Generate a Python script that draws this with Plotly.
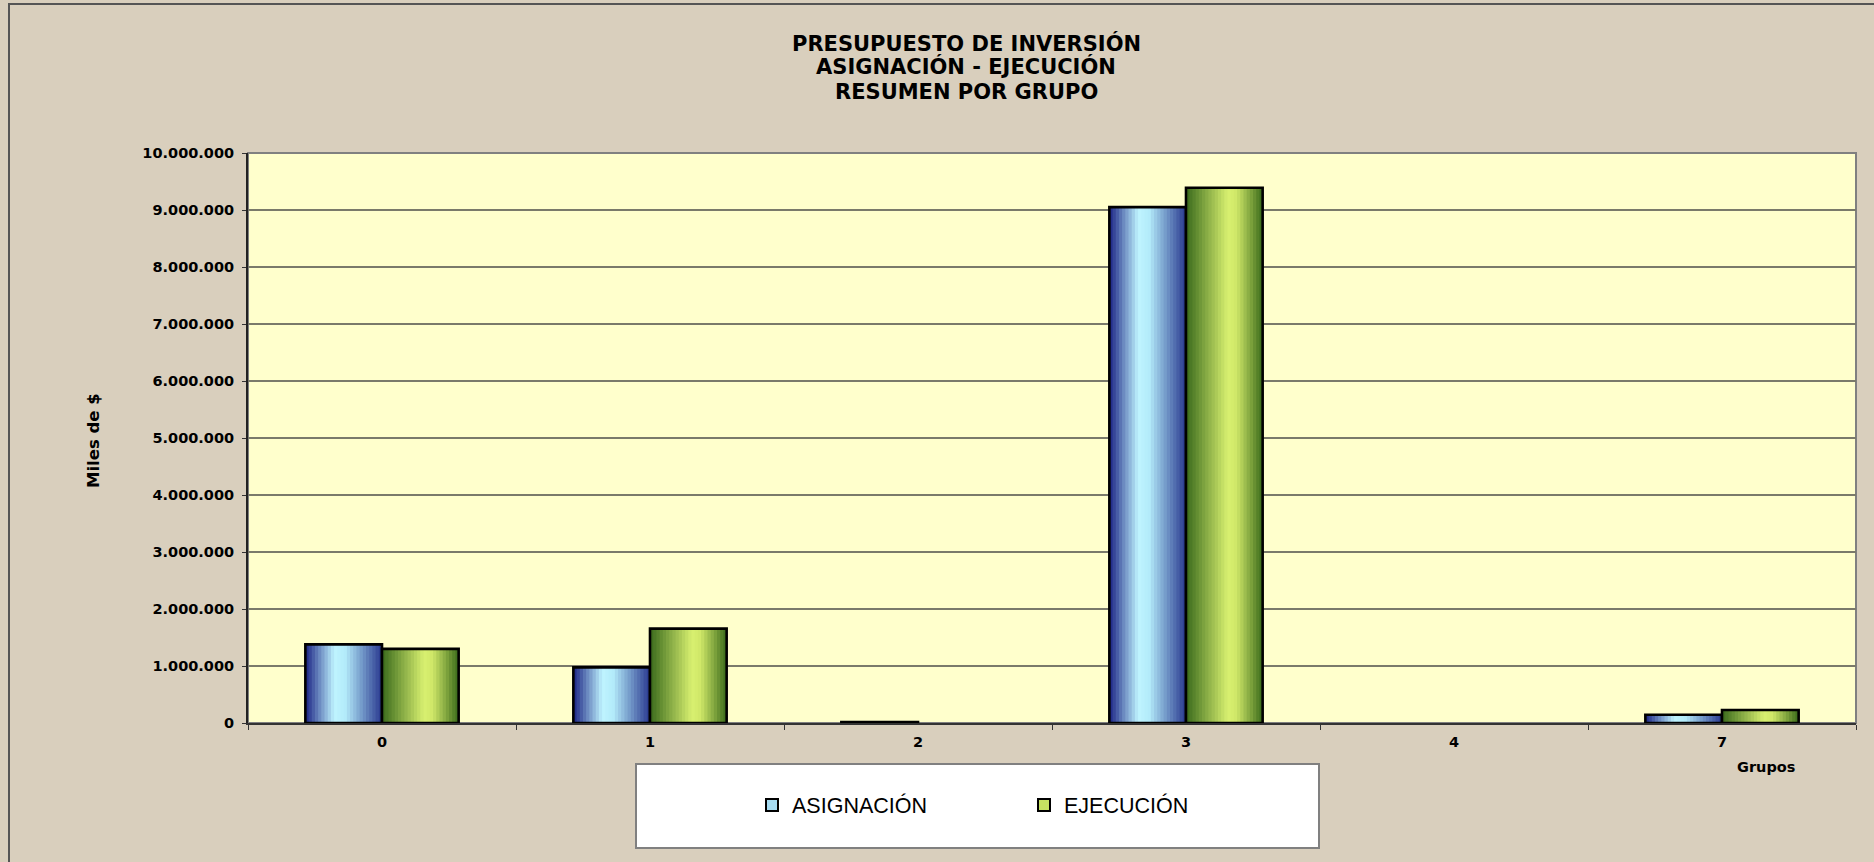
import plotly.graph_objects as go

# ---------------- data ----------------
categories = ["0", "1", "2", "3", "4", "7"]
asignacion = [1380000, 975000, 15000, 9050000, 0, 146000]
ejecucion = [1300000, 1655000, 0, 9390000, 0, 228000]
series_names = ["ASIGNACIÓN", "EJECUCIÓN"]
y_ticks = [0, 1000000, 2000000, 3000000, 4000000, 5000000,
           6000000, 7000000, 8000000, 9000000, 10000000]
title_lines = ["PRESUPUESTO DE INVERSIÓN", "ASIGNACIÓN - EJECUCIÓN", "RESUMEN POR GRUPO"]

# ---------------- layout geometry (pixels) ----------------
W, H = 1874, 862
L, R, T, B = 248, 18, 153, 139
PW, PH = W - L - R, H - T - B


def px_x(px):
    return (px - L) / PW


def px_y(py):
    return (H - B - py) / PH


def hex2rgb(h):
    h = h.lstrip("#")
    return tuple(int(h[i:i + 2], 16) for i in (0, 2, 4))


def grad(stops, t):
    for (t0, c0), (t1, c1) in zip(stops, stops[1:]):
        if t0 <= t <= t1:
            f = (t - t0) / (t1 - t0) if t1 > t0 else 0
            a, b = hex2rgb(c0), hex2rgb(c1)
            return "rgb(%d,%d,%d)" % tuple(round(a[i] + (b[i] - a[i]) * f) for i in range(3))
    return stops[-1][1]


blue_stops = [(0.0, "#1b2484"), (0.38, "#bff4ff"), (0.52, "#b3ebfa"), (1.0, "#28378e")]
green_stops = [(0.0, "#3a6a1c"), (0.55, "#d8f070"), (0.66, "#cfe768"), (1.0, "#3a6a1a")]

BAR_W = 0.286
N = 24
STEP = BAR_W / N

fig = go.Figure()

for vals, stops, base in ((asignacion, blue_stops, -BAR_W), (ejecucion, green_stops, 0.0)):
    for k in range(N):
        fig.add_trace(go.Bar(
            x=categories, y=vals,
            width=min(STEP * 2.5, BAR_W - k * STEP), offset=base + k * STEP,
            marker=dict(color=grad(stops, (k + 0.5) / N), line=dict(width=0)),
            showlegend=False, hoverinfo="skip"))
    fig.add_trace(go.Bar(
        x=categories, y=[v if v > 0 else None for v in vals],
        width=BAR_W, offset=base,
        marker=dict(color="rgba(0,0,0,0)", line=dict(color="black", width=2.6)),
        showlegend=False))

# legend-only traces
for name, col in zip(series_names, ["#a6dcf2", "#c6e262"]):
    fig.add_trace(go.Bar(
        x=categories[:1], y=[None], name=name,
        marker=dict(color=col, line=dict(color="black", width=2))))

bold = dict(family="DejaVu Sans", size=14.5, color="black", weight="bold")

title_y = [43, 67, 92]
annotations = [
    dict(text=t, xref="paper", yref="paper", x=px_x(966), y=px_y(yy),
         xanchor="center", yanchor="middle", showarrow=False,
         font=dict(family="DejaVu Sans", size=21, color="black", weight="bold"))
    for t, yy in zip(title_lines, title_y)
]
annotations += [
    dict(text="Miles de $", xref="paper", yref="paper", x=px_x(93), y=px_y(441),
         xanchor="center", yanchor="middle", textangle=-90, showarrow=False,
         font=dict(family="DejaVu Sans", size=16.5, color="black", weight="bold")),
    dict(text="Grupos", xref="paper", yref="paper", x=px_x(1766), y=px_y(767),
         xanchor="center", yanchor="middle", showarrow=False, font=bold),
]

fig.update_layout(
    width=W, height=H,
    margin=dict(l=L, r=R, t=T, b=B, pad=0),
    paper_bgcolor="#d9cfbd",
    plot_bgcolor="#ffffcc",
    barmode="overlay",
    separators=",.",
    showlegend=True,
    legend=dict(
        orientation="h", x=px_x(752), xanchor="left", y=px_y(805), yanchor="middle",
        bgcolor="rgba(0,0,0,0)", borderwidth=0,
        font=dict(family="Liberation Sans", size=21.5, color="black"),
        entrywidth=227, entrywidthmode="pixels", itemwidth=30,
    ),
    xaxis=dict(
        type="category", categoryorder="array", categoryarray=categories,
        range=[-0.5, len(categories) - 0.5],
        showline=True, linecolor="#333333", linewidth=2,
        ticks="outside", tickson="boundaries", ticklen=5, tickcolor="#333333", tickwidth=1,
        tickfont=bold, ticklabelstandoff=5, showgrid=False, zeroline=False, fixedrange=True,
    ),
    yaxis=dict(
        range=[0, 10000000], tickvals=y_ticks, tickformat=",d",
        showline=True, linecolor="#222222", linewidth=2,
        ticks="outside", ticklen=4, tickcolor="#333333", tickwidth=1,
        tickfont=bold, ticklabelstandoff=5,
        showgrid=True, gridcolor="#7a7a6a", gridwidth=1.5,
        zeroline=False, fixedrange=True,
    ),
    shapes=[
        dict(type="rect", xref="paper", yref="paper",
             x0=px_x(9), x1=px_x(W + 20), y0=px_y(H + 20), y1=px_y(4),
             line=dict(color="#555555", width=2), fillcolor="rgba(0,0,0,0)", layer="below"),
        dict(type="rect", xref="paper", yref="paper", x0=0, x1=1, y0=0, y1=1,
             line=dict(color="#808080", width=2), fillcolor="rgba(0,0,0,0)", layer="below"),
        dict(type="rect", xref="paper", yref="paper",
             x0=px_x(636), x1=px_x(1319), y0=px_y(848), y1=px_y(764),
             line=dict(color="#808080", width=2), fillcolor="white", layer="below"),
    ],
    annotations=annotations,
)

fig.write_html(
    "out.html",
    config={"displayModeBar": False},
    post_script="document.body.style.margin='0';document.body.style.background='#d9cfbd';",
)
